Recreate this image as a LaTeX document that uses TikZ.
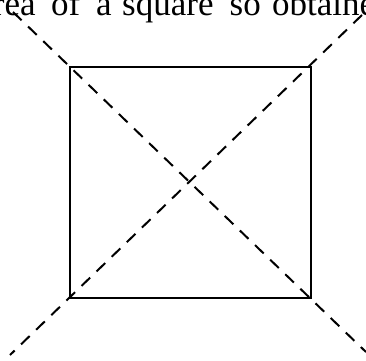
\documentclass[tikz,border=0pt]{standalone}
\usepackage{fontspec}
\setmainfont{Liberation Serif}
\begin{document}
\begin{tikzpicture}[x=1pt,y=-1pt,
  sq/.style={line width=2.5pt,line join=miter},
  diag/.style={line width=2pt,dash pattern=on 12pt off 9pt},
  captext/.style={font=\fontsize{35}{40}\selectfont,inner sep=0pt,anchor=base west}]
\useasboundingbox (0,0) rectangle (366,360);
\clip (0,0) rectangle (366,360);
\coordinate (A) at (70,67);
\coordinate (B) at (311,67);
\coordinate (C) at (311,298);
\coordinate (D) at (70,298);
\coordinate (e1) at (13,12);
\coordinate (e2) at (366,352);
\coordinate (e3) at (362,15);
\coordinate (e4) at (10,355);
\draw[sq] (A) -- (B) -- (C) -- (D) -- cycle;
\draw[diag] (e1) -- (e2);
\draw[diag] (e3) -- (e4);
\node[captext] (t) at (-7.3,15) {rea\hspace{15.6pt}of\hspace{15.8pt}a\hspace{10.5pt}square\hspace{16.1pt}so\hspace{11.4pt}obtained};
\end{tikzpicture}
\end{document}
